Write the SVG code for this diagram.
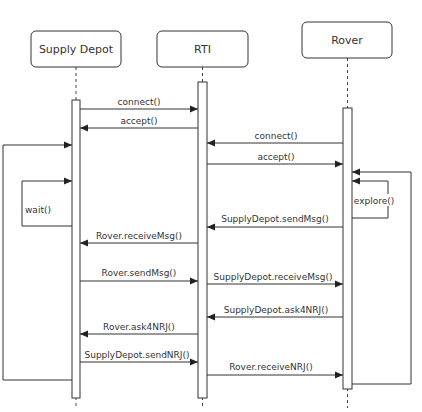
<svg xmlns="http://www.w3.org/2000/svg" width="422" height="412" viewBox="0 0 422 412">
<defs>
<marker id="ah" markerWidth="8" markerHeight="8" refX="8" refY="4" orient="auto" markerUnits="userSpaceOnUse">
<path d="M0,0.5 L8,4 L0,7.5 Z" fill="#222"/>
</marker>
<style>
.box{fill:#fff;stroke:#333;stroke-width:1}
.bt{font-family:"DejaVu Sans",sans-serif;font-size:11px;fill:#333;text-anchor:middle}
.life{stroke:#444;stroke-width:1;stroke-dasharray:3,3;fill:none}
.act{fill:#fff;stroke:#333;stroke-width:1}
.msg{stroke:#333;stroke-width:1;fill:none;marker-end:url(#ah)}
.ln{stroke:#333;stroke-width:1;fill:none}
.lbl{font-family:"DejaVu Sans",sans-serif;font-size:9px;fill:#333;text-anchor:middle}
</style>
</defs>
<rect width="422" height="412" fill="#fff"/>
<g id="lifelines">
<line class="life" x1="76" y1="67" x2="76" y2="406"/>
<line class="life" x1="202.5" y1="67" x2="202.5" y2="406"/>
<line class="life" x1="347.5" y1="58" x2="347.5" y2="408"/>
</g>
<g id="supply-depot">
<rect class="box" x="31" y="31" width="90" height="36" rx="5"/>
<text class="bt" x="76" y="53">Supply Depot</text>
<rect class="act" x="72" y="100" width="8" height="298"/>
</g>
<g id="rti">
<rect class="box" x="157" y="31" width="91" height="36" rx="5"/>
<text class="bt" x="202.5" y="53">RTI</text>
<rect class="act" x="198" y="82" width="9" height="316"/>
</g>
<g id="rover">
<rect class="box" x="302" y="22" width="90" height="36" rx="5"/>
<text class="bt" x="347" y="44">Rover</text>
<rect class="act" x="343" y="108" width="9" height="281"/>
</g>
<g id="connectors">
<line class="msg" x1="80" y1="109" x2="198" y2="109"/>
<text class="lbl" x="139" y="105">connect()</text>
<line class="msg" x1="198" y1="128" x2="80" y2="128"/>
<text class="lbl" x="139" y="124">accept()</text>
<line class="msg" x1="343" y1="143" x2="207" y2="143"/>
<text class="lbl" x="276" y="139">connect()</text>
<line class="msg" x1="207" y1="164" x2="343" y2="164"/>
<text class="lbl" x="276" y="160">accept()</text>
<polyline class="msg" points="352,384 411,384 411,172 352,172"/>
<polyline class="msg" points="352,218 388,218 388,181 352,181"/>
<rect x="355" y="194" width="40" height="12" fill="#fff"/>
<text class="lbl" x="374" y="204">explore()</text>
<line class="msg" x1="343" y1="227" x2="207" y2="227"/>
<text class="lbl" x="275" y="222">SupplyDepot.sendMsg()</text>
<line class="msg" x1="198" y1="243" x2="80" y2="243"/>
<text class="lbl" x="139" y="239">Rover.receiveMsg()</text>
<polyline class="msg" points="72,380 3,380 3,145 72,145"/>
<polyline class="msg" points="72,226 22,226 22,181 72,181"/>
<text class="lbl" x="25" y="213" style="text-anchor:start">wait()</text>
<line class="msg" x1="80" y1="281" x2="198" y2="281"/>
<text class="lbl" x="139" y="276">Rover.sendMsg()</text>
<line class="msg" x1="207" y1="284" x2="343" y2="284"/>
<text class="lbl" x="273" y="280">SupplyDepot.receiveMsg()</text>
<line class="msg" x1="343" y1="317" x2="207" y2="317"/>
<text class="lbl" x="276" y="313">SupplyDepot.ask4NRJ()</text>
<line class="msg" x1="198" y1="334" x2="80" y2="334"/>
<text class="lbl" x="139" y="330">Rover.ask4NRJ()</text>
<line class="msg" x1="80" y1="362" x2="198" y2="362"/>
<text class="lbl" x="137" y="358">SupplyDepot.sendNRJ()</text>
<line class="msg" x1="207" y1="375" x2="343" y2="375"/>
<text class="lbl" x="271" y="370">Rover.receiveNRJ()</text>
</g>
</svg>
